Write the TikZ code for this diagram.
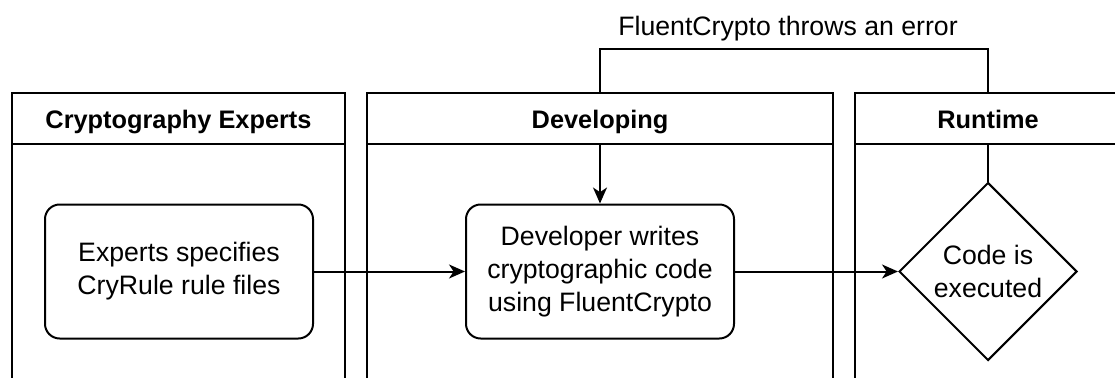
\documentclass[tikz,border=0pt]{standalone}
\usepackage{fontspec}
\setmainfont{Liberation Sans}
\usetikzlibrary{arrows.meta,shapes.geometric}
\begin{document}
\begin{tikzpicture}[x=0.75pt,y=-0.75pt,
  every node/.style={font=\fontsize{20}{24.75}\selectfont, align=center, inner sep=0pt},
  lane/.style={draw=black, line width=1.5pt},
  header/.style={draw=black, line width=1.5pt, fill=white},
  lanetitle/.style={font=\fontsize{19}{23}\selectfont\bfseries, anchor=base},
  stepbox/.style={draw=black, line width=1.5pt, rounded corners=11pt, fill=white,
    minimum width=201pt, minimum height=100.5pt},
  decision/.style={draw=black, line width=1.5pt, diamond, aspect=1, fill=white,
    minimum width=133.5pt, minimum height=133.5pt},
  flow/.style={draw=black, line width=1.5pt,
    -{Stealth[length=12pt, width=10.5pt, inset=3.5pt]}}
]
\useasboundingbox (0,0) rectangle (1115,378);
\clip (0,0) rectangle (1115,378);

% swimlane bodies
\draw[lane] (12,93) rectangle (345,420);
\draw[lane] (367,93) rectangle (833,420);
\draw[lane] (855,93) rectangle (1150,420);

% activities
\node[stepbox] (spec) at (179,271.5) {Experts specifies\\CryRule rule files};
\node[stepbox] (write) at (600,271.5) {Developer writes\\cryptographic code\\using FluentCrypto};
\node[decision] (exec) at (988,271.5) {Code is\\executed};

% connectors
\coordinate (loop) at (794,49);
\draw[flow] (spec) -- (write);
\draw[flow] (write) -- (exec);
\draw[flow] (exec.north) |- (loop) -| (write.north);
\node[anchor=base] (err) at (788,36) {FluentCrypto throws an error};

% swimlane headers
\draw[header] (12,93) rectangle (345,144);
\draw[header] (367,93) rectangle (833,144);
\draw[header] (855,93) rectangle (1150,144);
\node[lanetitle] (h1) at (178.5,129) {Cryptography Experts};
\node[lanetitle] (h2) at (600,129) {Developing};
\node[lanetitle] (h3) at (988,129) {Runtime};
\end{tikzpicture}
\end{document}
